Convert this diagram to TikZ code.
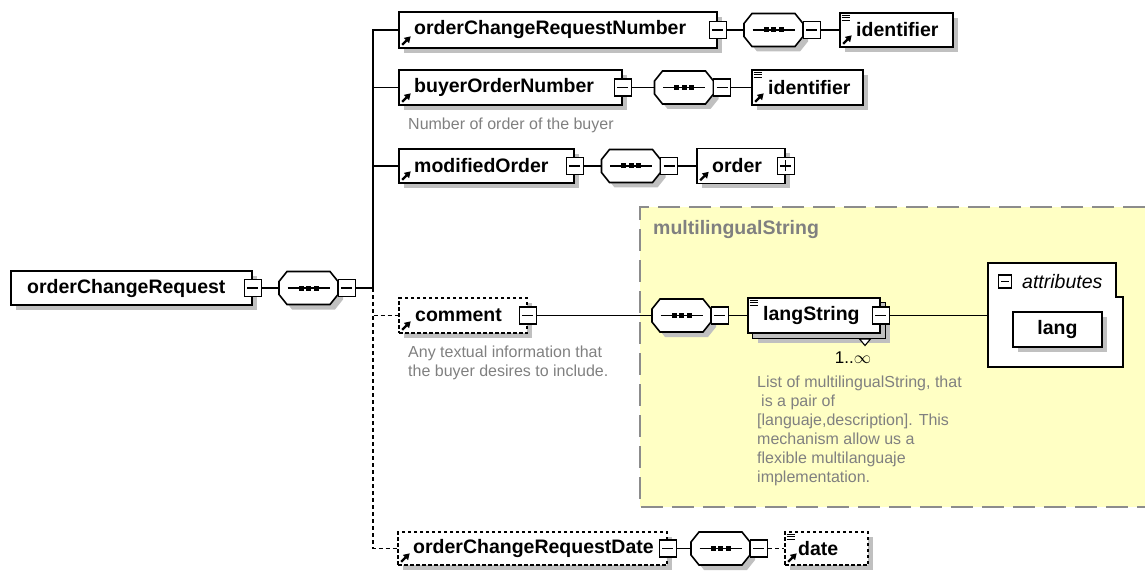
\documentclass[tikz,border=0pt]{standalone}
\usepackage{fontspec}
\setmainfont{Liberation Sans}
\usetikzlibrary{arrows.meta,calc}
\definecolor{shgrey}{RGB}{192,192,192}
\definecolor{txtgrey}{RGB}{128,128,128}
\definecolor{yellowbg}{RGB}{255,255,196}
\definecolor{dashgrey}{RGB}{140,140,140}
\tikzset{
  elem/.style={draw=black, line width=1.6pt, fill=white, inner sep=0pt,
    preaction={fill=shgrey, transform canvas={shift={(5pt,-5pt)}}}},
  optelem/.style={elem, dash pattern=on 3.5pt off 2.5pt},
  sgn/.style={draw=black, line width=1.3pt, fill=white, minimum width=17pt, minimum height=17pt, inner sep=0pt},
  minus/.style={sgn, path picture={\draw[line width=1.3pt] ([xshift=3pt]path picture bounding box.west) -- ([xshift=-3pt]path picture bounding box.east);}},
  plus/.style={sgn, path picture={\draw[line width=1.3pt] ([xshift=3pt]path picture bounding box.west) -- ([xshift=-3pt]path picture bounding box.east);
      \draw[line width=1.3pt] ([yshift=-3pt]path picture bounding box.north) -- ([yshift=3pt]path picture bounding box.south);}},
  smallminus/.style={draw=black, line width=1.3pt, fill=white, minimum width=13pt, minimum height=13pt, inner sep=0pt,
    path picture={\draw[line width=1.3pt] ([xshift=2.5pt]path picture bounding box.west) -- ([xshift=-2.5pt]path picture bounding box.east);}},
  nametext/.style={font=\fontsize{19.5}{23}\selectfont\bfseries, inner sep=0pt, anchor=west, text=black},
  note/.style={font=\fontsize{16}{19}\selectfont, text=txtgrey, inner sep=0pt, anchor=north west, align=left},
  conn/.style={line width=1.7pt},
  optconn/.style={conn, dash pattern=on 4pt off 3pt},
  seqbox/.style={minimum width=59pt, minimum height=34pt, inner sep=0pt},
  arrowicon/.style={line width=2.2pt, -{Triangle[length=6pt,width=7pt]}},
  listicon/.style={line width=1.2pt},
}
\newcommand\seqsym[3]{%
  \begin{scope}[shift={(#2,#3)}]
    \path[draw=black, line width=1.6pt, fill=white, preaction={fill=shgrey, transform canvas={shift={(5pt,-5pt)}}}]
      (-29.5,-6.5) -- (-21.5,-16.5) -- (21.5,-16.5) -- (29.5,-6.5) -- (29.5,6.5) -- (21.5,16.5) -- (-21.5,16.5) -- (-29.5,6.5) -- cycle;
    \draw[line width=1.6pt] (-21,0) -- (21,0);
    \fill (-10,-2.5) rectangle (-5,2.5);
    \fill (-2.5,-2.5) rectangle (2.5,2.5);
    \fill (5,-2.5) rectangle (10,2.5);
  \end{scope}
  \node[seqbox] (#1) at (#2,#3) {};
  \node[minus] (#1m) at ($(#1.east)+(8.5,0)$) {};
}
\newcommand\refarrow[1]{\draw[arrowicon] ($(#1.south west)+(4,-4)$) -- +(8.5,-8.5);}
\newcommand\typelist[1]{%
  \draw[listicon] ($(#1.north west)+(2.5,3)$) -- +(8,0);
  \draw[listicon] ($(#1.north west)+(2.5,5.5)$) -- +(8,0);
  \draw[listicon] ($(#1.north west)+(2.5,8)$) -- +(8,0);}
\begin{document}
\begin{tikzpicture}[x=1pt,y=-1pt]
\useasboundingbox (0,0) rectangle (1145,572);
% multilingualString area
\fill[yellowbg] (640,207) rectangle (1145,507);
\draw[dashgrey, line width=1.6pt, dash pattern=on 22pt off 9pt] (1145,207) -- (640,207) -- (640,507) -- (1145,507);
\node[font=\fontsize{19.5}{23}\selectfont\bfseries, text=txtgrey, inner sep=0pt, anchor=west] (mlTitle) at (653,230) {multilingualString};

% root
\node[elem, minimum width=241pt, minimum height=34pt] (root) at (131.5,288) {};
\node[nametext] (rootT) at (27,288) {orderChangeRequest};
\node[minus] (rootm) at (root.east) {};
\seqsym{seqA}{308.5}{288}
\coordinate (bus) at (373,288);

% row 1
\node[elem, minimum width=318pt, minimum height=36pt] (ocrn) at (558,30) {};
\node[nametext] (ocrnT) at (414,30) {orderChangeRequestNumber};
\refarrow{ocrn}
\node[minus] (ocrnm) at (ocrn.east) {};
\seqsym{seqB}{773.5}{30}
\node[elem, minimum width=113pt, minimum height=34pt] (idA) at (896.5,30) {};
\node[nametext] (idAT) at (856,30) {identifier};
\typelist{idA}
\refarrow{idA}

% row 2
\node[elem, minimum width=223pt, minimum height=35pt] (bon) at (510.5,87.5) {};
\node[nametext] (bonT) at (414,87.5) {buyerOrderNumber};
\refarrow{bon}
\node[minus] (bonm) at (bon.east) {};
\seqsym{seqC}{684}{87.5}
\node[elem, minimum width=111pt, minimum height=35pt] (idB) at (807.5,87.5) {};
\node[nametext] (idBT) at (768,87.5) {identifier};
\typelist{idB}
\refarrow{idB}
\node[note] (bonN) at (408,118) {Number of order of the buyer};

% row 3
\node[elem, minimum width=175pt, minimum height=34pt] (mo) at (486.5,166) {};
\node[nametext] (moT) at (414,166) {modifiedOrder};
\refarrow{mo}
\node[minus] (mom) at (mo.east) {};
\seqsym{seqD}{631}{166}
\node[elem, minimum width=88pt, minimum height=35pt] (ord) at (741,166) {};
\node[nametext] (ordT) at (712,166) {order};
\refarrow{ord}
\node[plus] (ordp) at (ord.east) {};

% row 4
\node[optelem, minimum width=128pt, minimum height=35pt] (cmt) at (463,315.5) {};
\node[nametext] (cmtT) at (415,315.5) {comment};
\refarrow{cmt}
\node[minus] (cmtm) at (cmt.east) {};
\node[note] (cmtN) at (408,346) {Any textual information that\\the buyer desires to include.};
\seqsym{seqE}{681.5}{315.5}
\node[elem, minimum width=132pt, minimum height=35pt] (lsB) at (819,320.5) {};
\node[elem, minimum width=132pt, minimum height=35pt] (ls) at (814,315.5) {};
\node[nametext] (lsT) at (763,315.5) {langString};
\typelist{ls}
\node[minus] (lsm) at (ls.east) {};
\draw[line width=1.1pt, fill=white] (859.5,339) -- (870.5,339) -- (865,345.5) -- cycle;
\node[font=\fontsize{17}{20}\selectfont, inner sep=0pt] (card) at (853,358) {1..\(\infty\)};
\node[note] (lsN) at (757,376) {List of multilingualString, that\\\hspace*{4pt}is a pair of\\{}[languaje,description]. This\\mechanism allow us a\\flexible multilanguaje\\implementation.};
% attributes
\draw[line width=1.6pt, fill=white] (988,263) -- (1116,263) -- (1116,297) -- (1123,297) -- (1123,367) -- (988,367) -- cycle;
\coordinate (attrW) at (988,315.5);
\node[smallminus] (attrm) at (1005,281.5) {};
\node[font=\fontsize{19.5}{23}\selectfont\itshape, inner sep=0pt, anchor=west] (attrT) at (1022,281.5) {attributes};
\node[elem, minimum width=89pt, minimum height=35pt] (lang) at (1057.5,329.5) {};
\node[nametext, anchor=center] (langT) at (lang.center) {lang};

% row 5
\node[optelem, minimum width=269pt, minimum height=33pt] (ocrd) at (532.5,548.5) {};
\node[nametext] (ocrdT) at (413,548.5) {orderChangeRequestDate};
\refarrow{ocrd}
\node[minus] (ocrdm) at (ocrd.east) {};
\seqsym{seqF}{720.5}{548.5}
\node[optelem, minimum width=83pt, minimum height=33pt] (dt) at (826.5,548.5) {};
\node[nametext] (dtT) at (798,548.5) {date};
\typelist{dt}
\refarrow{dt}

% connectors
\draw[conn] (rootm.east) -- (seqA.west);
\draw[conn] (seqAm.east) -- (bus);
\draw[conn] (bus) |- (ocrn.west);
\draw[conn] (bus) |- (bon.west);
\draw[conn] (bus) |- (mo.west);
\draw[optconn] (bus) |- (cmt.west);
\draw[optconn] (bus) |- (ocrd.west);
\draw[conn] (ocrnm.east) -- (seqB.west);
\draw[conn] (seqBm.east) -- (idA.west);
\draw[conn] (bonm.east) -- (seqC.west);
\draw[conn] (seqCm.east) -- (idB.west);
\draw[conn] (mom.east) -- (seqD.west);
\draw[conn] (seqDm.east) -- (ord.west);
\draw[conn] (cmtm.east) -- (seqE.west);
\draw[conn] (seqEm.east) -- (ls.west);
\draw[conn] (lsm.east) -- (attrW);
\draw[conn] (ocrdm.east) -- (seqF.west);
\draw[optconn] (seqFm.east) -- (dt.west);
\end{tikzpicture}
\end{document}
